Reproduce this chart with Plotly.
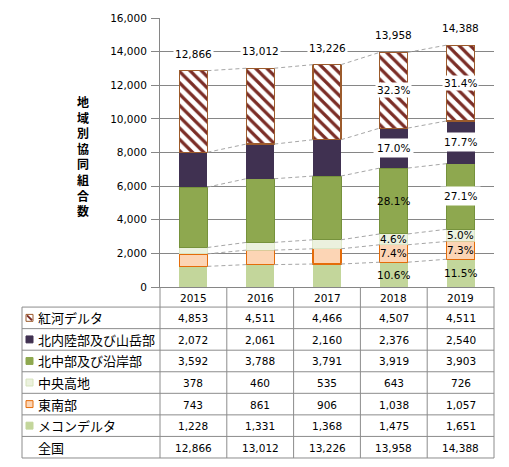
import plotly.graph_objects as go

# ---------------- data ----------------
years = ["2015", "2016", "2017", "2018", "2019"]
mekong_delta = [1228, 1331, 1368, 1475, 1651]          # メコンデルタ
southeast = [743, 861, 906, 1038, 1057]                # 東南部
central_highlands = [378, 460, 535, 643, 726]          # 中央高地
north_central_coast = [3592, 3788, 3791, 3919, 3903]   # 北中部及び沿岸部
northern_mountains = [2072, 2061, 2160, 2376, 2540]    # 北内陸部及び山岳部
red_river_delta = [4853, 4511, 4466, 4507, 4511]       # 紅河デルタ
national_total = [12866, 13012, 13226, 13958, 14388]   # 全国
series_names = ["メコンデルタ", "東南部", "中央高地", "北中部及び沿岸部", "北内陸部及び山岳部", "紅河デルタ"]
total_name = "全国"
y_title = "地域別協同組合数"
y_ticks = [0, 2000, 4000, 6000, 8000, 10000, 12000, 14000, 16000]
pct_year_index = [3, 4]

stack = [mekong_delta, southeast, central_highlands, north_central_coast, northern_mountains, red_river_delta]

# ---------------- layout geometry ----------------
W, H = 509, 467
L, R, T, B = 160, 15, 15, 180
PW, PH = W - L - R, H - T - B
BASE = H - B


def pxx(xp):
    return (xp - L) / PW


def pyy(yp):
    return (BASE - yp) / PH


NUM_FONT = "DejaVu Sans"
JP_FONT = "Noto Sans CJK JP"
GRID = "#868686"
TABLE_LINE = "#8C8C8C"
DASH = "#A6A6A6"

styles = [
    dict(color="#C3D69B", line=dict(color="#C3D69B", width=0)),
    dict(color="#FCD5B5", line=dict(color="#E46C0A", width=1.3)),
    dict(color="#EBF1DE", line=dict(color="#D7E4BD", width=0.8)),
    dict(color="#8EA84F", line=dict(color="#76923C", width=1)),
    dict(color="#403151", line=dict(color="#403151", width=0)),
    dict(color="white", line=dict(color="#9C5B2C", width=1.2),
         pattern=dict(shape="\\", fgcolor="#7B2D26", bgcolor="white", size=8, solidity=0.4, fillmode="replace")),
]
icon_fill = ["#C3D69B", "#FCD5B5", "#EBF1DE", "#8EA84F", "#403151", "white"]
icon_line = ["#C3D69B", "#E46C0A", "#D7E4BD", "#8EA84F", "#403151", "#9C5B2C"]
pct_white_bg = {3: [False, False, False, False, True, True],
                4: [False, False, False, True, True, True]}
pct_pad = [1, 1, 1, 3, 3, 1]

bw = 0.42
xs = list(range(len(years)))

fig = go.Figure()
for vals, name, st in zip(stack, series_names, styles):
    fig.add_trace(go.Bar(x=xs, y=vals, width=bw, name=name, marker=st, showlegend=False))

# cumulative sums
cum = []
run = [0] * len(years)
for vals in stack:
    run = [a + b for a, b in zip(run, vals)]
    cum.append(run)

# dashed series lines between bars
for level in cum:
    lx, ly = [], []
    for i in range(len(years) - 1):
        lx += [xs[i] + bw / 2, xs[i + 1] - bw / 2, None]
        ly += [level[i], level[i + 1], None]
    fig.add_trace(go.Scatter(x=lx, y=ly, mode="lines", showlegend=False, hoverinfo="skip",
                             line=dict(color=DASH, width=1, dash="4px,3px")))

annotations = []


def ann(**kw):
    kw.setdefault("showarrow", False)
    kw.setdefault("xanchor", "center")
    kw.setdefault("yanchor", "middle")
    annotations.append(kw)


# total labels
for i, tot in enumerate(national_total):
    ann(x=xs[i], y=tot, xref="x", yref="y", yshift=17, text=f"{tot:,}",
        bgcolor="white", borderpad=1, font=dict(family=NUM_FONT, size=10.5, color="black"))
# percentage labels
for i in pct_year_index:
    bottom = 0
    for k, vals in enumerate(stack):
        mid = bottom + vals[i] / 2
        bottom += vals[i]
        ann(x=xs[i], y=mid, xref="x", yref="y",
            text=f"{100 * vals[i] / national_total[i]:.1f}%",
            bgcolor="white" if pct_white_bg[i][k] else "rgba(0,0,0,0)",
            borderpad=pct_pad[k], font=dict(family=NUM_FONT, size=10.5, color="black"))

# y title (vertical stacked characters)
ann(x=pxx(83), y=pyy(155), xref="paper", yref="paper",
    text="<br>".join(list(y_title)), align="center",
    font=dict(family=JP_FONT, size=12, color="black", weight="bold"))

# ---------------- data table ----------------
shapes = []
hdr_top = BASE
row_top = 307.3
rh = 21.8
n_rows = len(series_names) + 1
bottom_y = row_top + rh * n_rows
ncol = len(years)

for k in range(ncol + 1):
    shapes.append(dict(type="line", xref="paper", yref="paper", x0=k / ncol, x1=k / ncol,
                       y0=pyy(hdr_top), y1=pyy(bottom_y), line=dict(color=TABLE_LINE, width=1)))
shapes.append(dict(type="line", xref="paper", yref="paper", x0=pxx(22), x1=pxx(22),
                   y0=pyy(row_top), y1=pyy(bottom_y), line=dict(color=TABLE_LINE, width=1)))
for r in range(n_rows + 1):
    yy = pyy(row_top + rh * r)
    shapes.append(dict(type="line", xref="paper", yref="paper", x0=pxx(22), x1=1,
                       y0=yy, y1=yy, line=dict(color=TABLE_LINE, width=1)))

for i, yr in enumerate(years):
    ann(x=(i + 0.5) / ncol, y=pyy((hdr_top + row_top) / 2 + 0.5), xref="paper", yref="paper",
        text=yr, font=dict(family=NUM_FONT, size=10.5, color="black"))

row_series = list(range(len(series_names)))[::-1]
for r, k in enumerate(row_series):
    cy = row_top + rh * (r + 0.5)
    # legend key
    shapes.append(dict(type="rect", xref="paper", yref="paper", x0=pxx(26), x1=pxx(33),
                       y0=pyy(cy + 3.5), y1=pyy(cy - 3.5), fillcolor=icon_fill[k],
                       line=dict(color=icon_line[k], width=1)))
    if k == len(series_names) - 1:
        shapes.append(dict(type="line", xref="paper", yref="paper", x0=pxx(27), x1=pxx(32),
                           y0=pyy(cy - 2.5), y1=pyy(cy + 2.5), line=dict(color="#7B2D26", width=2)))
    ann(x=pxx(36), y=pyy(cy), xref="paper", yref="paper", xanchor="left",
        text=series_names[k], font=dict(family=JP_FONT, size=13, color="black"))
    for i in range(ncol):
        ann(x=(i + 0.5) / ncol, y=pyy(cy + 0.5), xref="paper", yref="paper",
            text=f"{stack[k][i]:,}", font=dict(family=NUM_FONT, size=10.5, color="black"))
cy = row_top + rh * (n_rows - 0.5)
ann(x=pxx(36), y=pyy(cy), xref="paper", yref="paper", xanchor="left",
    text=total_name, font=dict(family=JP_FONT, size=13, color="black"))
for i in range(ncol):
    ann(x=(i + 0.5) / ncol, y=pyy(cy + 0.5), xref="paper", yref="paper",
        text=f"{national_total[i]:,}", font=dict(family=NUM_FONT, size=10.5, color="black"))

fig.update_layout(
    width=W, height=H,
    margin=dict(l=L, r=R, t=T, b=B, pad=0),
    paper_bgcolor="white", plot_bgcolor="white",
    barmode="stack", bargap=0.58,
    showlegend=False,
    annotations=annotations, shapes=shapes,
    font=dict(family=NUM_FONT, size=10.5, color="black"),
    xaxis=dict(range=[-0.5, len(years) - 0.5], showticklabels=False, ticks="", showgrid=False,
               zeroline=False, showline=True, linecolor=GRID, linewidth=1, fixedrange=True),
    yaxis=dict(range=[0, 16000], tickvals=y_ticks, ticktext=[f"{v:,}" for v in y_ticks],
               showgrid=True, gridcolor=GRID, gridwidth=1, zeroline=False,
               showline=True, linecolor=GRID, linewidth=1, ticks="outside", ticklen=8, tickcolor=GRID,
               ticklabelstandoff=2,
               tickfont=dict(family=NUM_FONT, size=10.5, color="black"), fixedrange=True),
)

fig.write_html("out.html", config={"displayModeBar": False},
               post_script="document.body.style.margin='0';document.body.style.overflow='hidden';")
